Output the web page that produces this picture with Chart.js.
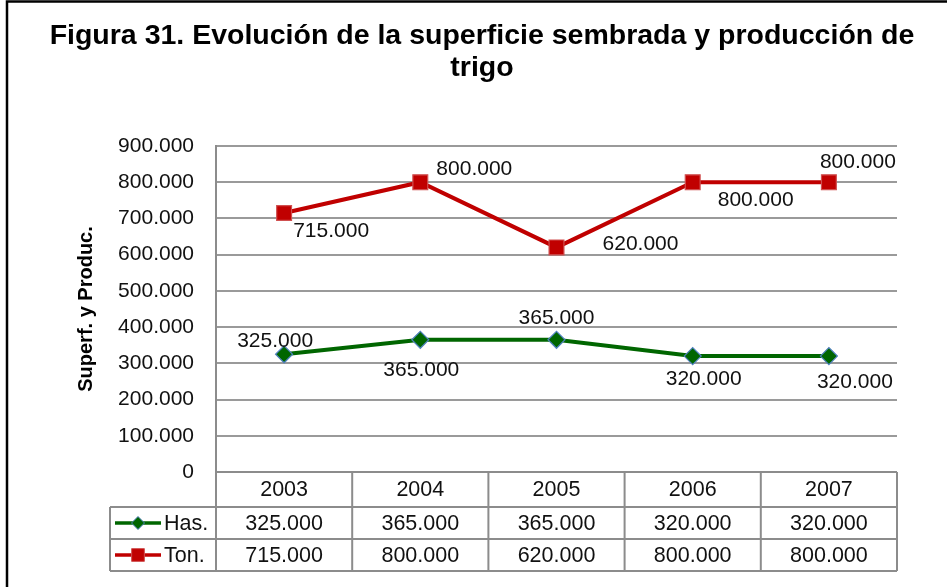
<!DOCTYPE html>
<html>
<head>
<meta charset="utf-8">
<script src="https://cdn.jsdelivr.net/npm/chart.js@4.4.1/dist/chart.umd.min.js"></script>
<style>
  html, body { margin: 0; padding: 0; background: #fff; }
  #wrap { width: 947px; height: 587px; position: relative; }
</style>
</head>
<body>
<div id="wrap"><canvas id="chart" width="947" height="587"></canvas></div>
<script>
const years = ['2003', '2004', '2005', '2006', '2007'];
const hasValues = [325000, 365000, 365000, 320000, 320000];
const tonValues = [715000, 800000, 620000, 800000, 800000];
const yTicks = [0, 100000, 200000, 300000, 400000, 500000, 600000, 700000, 800000, 900000];
const titleLines = ['Figura 31. Evolución de la superficie sembrada y producción de', 'trigo'];

// where each data label sits relative to its point (px)
const hasLabelOffsets = [[-9, -13], [1, 30], [0, -22], [11, 23], [26, 26]];
const tonLabelOffsets = [[47, 18], [54, -13], [84, -3], [63, 18], [29, -20]];

const GREEN = '#006600';
const RED = '#C00000';
const FONT = '"Liberation Sans", Arial, sans-serif';

const fmtNum = (v) => v === 0 ? '0' : String(v).replace(/\B(?=(\d{3})+(?!\d))/g, '.');

const offsets = [hasLabelOffsets, tonLabelOffsets];

// white background, black frame and the two-line heading
const framePlugin = {
  id: 'frame',
  beforeDraw(chart) {
    const ctx = chart.ctx;
    ctx.save();
    ctx.fillStyle = '#fff';
    ctx.fillRect(0, 0, chart.width, chart.height);
    ctx.strokeStyle = '#000';
    ctx.lineWidth = 2.5;
    ctx.beginPath();
    ctx.moveTo(7, chart.height + 5);
    ctx.lineTo(7, 1.5);
    ctx.lineTo(chart.width + 5, 1.5);
    ctx.stroke();

    ctx.fillStyle = '#000';
    ctx.font = 'bold 28.5px ' + FONT;
    ctx.textAlign = 'center';
    ctx.textBaseline = 'middle';
    titleLines.forEach((t, i) => ctx.fillText(t, 482, 36 + i * 32));
    ctx.restore();
  }
};

const labelPlugin = {
  id: 'pointLabels',
  afterDatasetsDraw(chart) {
    const ctx = chart.ctx;
    ctx.save();
    ctx.font = '21px ' + FONT;
    ctx.fillStyle = '#111';
    ctx.textAlign = 'center';
    ctx.textBaseline = 'middle';
    chart.data.datasets.forEach((ds, di) => {
      chart.getDatasetMeta(di).data.forEach((pt, i) => {
        const off = offsets[di][i];
        ctx.fillText(fmtNum(ds.data[i]), pt.x + off[0], pt.y + off[1]);
      });
    });
    ctx.restore();
  }
};

const tablePlugin = {
  id: 'dataTable',
  afterDraw(chart) {
    const ctx = chart.ctx;
    const xs = chart.scales.x;
    const area = chart.chartArea;
    const colW = (area.right - area.left) / years.length;
    const rows = [area.bottom, area.bottom + 35, area.bottom + 67, area.bottom + 99];
    const legendLeft = 110;

    ctx.save();
    ctx.strokeStyle = '#8c8c8c';
    ctx.lineWidth = 2;
    ctx.beginPath();
    ctx.moveTo(area.left, rows[0]); ctx.lineTo(area.right, rows[0]);
    for (let r = 1; r < rows.length; r++) {
      ctx.moveTo(legendLeft, rows[r]); ctx.lineTo(area.right, rows[r]);
    }
    for (let c = 0; c <= years.length; c++) {
      const x = area.left + c * colW;
      ctx.moveTo(x, rows[0]); ctx.lineTo(x, rows[3]);
    }
    ctx.moveTo(legendLeft, rows[1]); ctx.lineTo(legendLeft, rows[3]);
    ctx.stroke();

    ctx.font = '21.5px ' + FONT;
    ctx.fillStyle = '#111';
    ctx.textAlign = 'center';
    ctx.textBaseline = 'middle';
    years.forEach((y, i) => {
      const cx = xs.getPixelForValue(i);
      ctx.fillText(y, cx, (rows[0] + rows[1]) / 2 + 1);
      ctx.fillText(fmtNum(hasValues[i]), cx, (rows[1] + rows[2]) / 2 + 1);
      ctx.fillText(fmtNum(tonValues[i]), cx, (rows[2] + rows[3]) / 2 + 1);
    });

    // legend keys
    chart.data.datasets.forEach((ds, di) => {
      const cy = (rows[1 + di] + rows[2 + di]) / 2;
      ctx.strokeStyle = ds.borderColor;
      ctx.lineWidth = 3.5;
      ctx.beginPath();
      ctx.moveTo(115, cy); ctx.lineTo(161, cy);
      ctx.stroke();
      ctx.fillStyle = ds.pointBackgroundColor;
      ctx.strokeStyle = ds.pointBorderColor;
      ctx.lineWidth = 1;
      Chart.helpers.drawPoint(ctx, {
        pointStyle: ds.pointStyle,
        radius: di === 0 ? 6.5 : 9,
        rotation: 0,
        borderWidth: 1
      }, 138, cy);
      ctx.fillStyle = '#111';
      ctx.textAlign = 'left';
      ctx.fillText(ds.label, 164, cy + 1);
    });
    ctx.restore();
  }
};

new Chart(document.getElementById('chart'), {
  type: 'line',
  data: {
    labels: years,
    datasets: [
      {
        label: 'Has.',
        data: hasValues,
        borderColor: GREEN,
        borderWidth: 4,
        pointStyle: 'rectRot',
        pointRadius: 8.5,
        pointBackgroundColor: GREEN,
        pointBorderColor: '#4F81BD',
        pointBorderWidth: 1.2,
        tension: 0
      },
      {
        label: 'Ton.',
        data: tonValues,
        borderColor: RED,
        borderWidth: 4,
        pointStyle: 'rect',
        pointRadius: 10.5,
        pointBackgroundColor: RED,
        pointBorderColor: '#D05050',
        pointBorderWidth: 1.2,
        tension: 0
      }
    ]
  },
  options: {
    responsive: false,
    animation: false,
    layout: { padding: { left: 72, right: 50, top: 146, bottom: 115 } },
    plugins: {
      legend: { display: false },
      tooltip: { enabled: false },
      title: { display: false }
    },
    scales: {
      x: {
        display: false,
        offset: true
      },
      y: {
        min: 0,
        max: 900000,
        afterBuildTicks: (scale) => { scale.ticks = yTicks.map(v => ({ value: v })); },
        afterFit: (scale) => { scale.width = 144; },
        border: { display: true, color: '#8c8c8c', width: 2 },
        grid: { color: '#9a9a9a', lineWidth: 2, drawTicks: false },
        ticks: {
          color: '#111',
          padding: 22,
          font: { family: FONT, size: 21 },
          callback: (v) => fmtNum(v)
        },
        title: {
          display: true,
          text: 'Superf. y Produc.',
          color: '#000',
          font: { family: FONT, size: 20, weight: 'bold' },
          padding: { top: 2, bottom: 2 }
        }
      }
    }
  },
  plugins: [framePlugin, labelPlugin, tablePlugin]
});
</script>
</body>
</html>
